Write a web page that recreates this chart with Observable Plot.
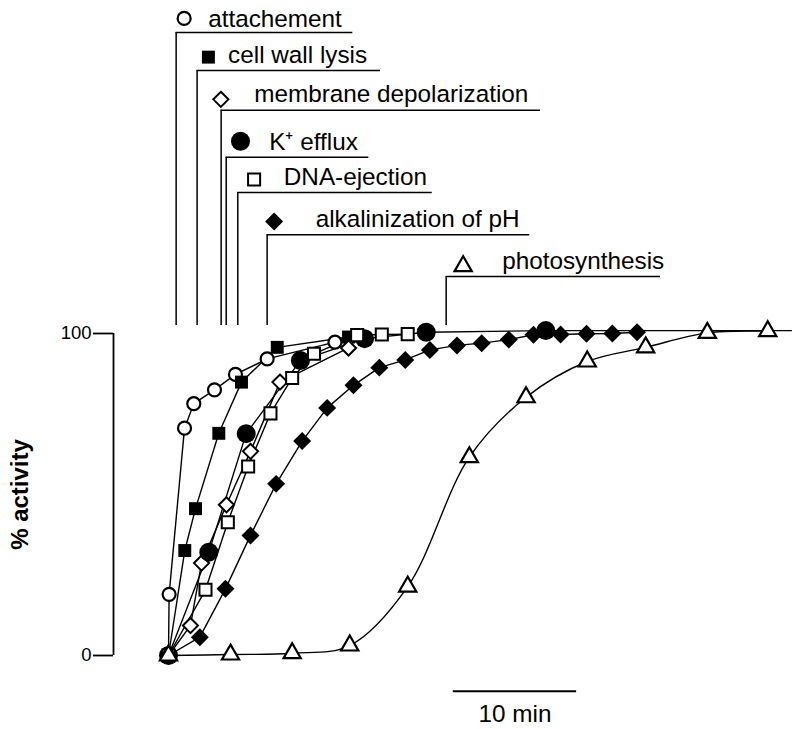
<!DOCTYPE html>
<html><head><meta charset="utf-8">
<script src="https://cdn.jsdelivr.net/npm/d3@7"></script>
<script src="https://cdn.jsdelivr.net/npm/@observablehq/plot@0.6"></script>
<style>body{margin:0;background:#fff}</style>
</head><body><div id="chart"></div>
<script>
// ---- data: [time (min), % activity] ----
const attachement = [[0,0],[0.05,19],[1.3,70.6],[2.05,78.2],[3.73,82.5],[5.43,87.3],[8.0,92.1],[13.5,97.3]];
const cellWallLysis = [[0,0],[1.32,32.6],[2.19,45.6],[4.08,69.0],[5.92,84.9],[8.82,95.7],[14.6,98.9]];
const membraneDepol = [[0,0],[1.78,9.3],[2.68,28.7],[4.7,46.8],[6.65,63.4],[9.04,84.9],[14.6,95.5]];
const kEfflux = [[0,0],[3.27,32.1],[6.3,68.9],[10.7,91.6],[15.9,98.4],[20.9,100.4],[30.6,100.9]];
const dnaEjection = [[0,0],[3.0,20.4],[4.81,41.4],[6.46,58.7],[8.27,75.2],[10.03,86.2],[11.8,93.7],[15.3,99.5],[17.3,99.7],[19.4,99.8]];
const alkalinization = [[0,0],[2.54,5.7],[4.62,20.7],[6.65,37.3],[8.73,53.3],[10.84,66.6],[12.87,76.9],[15.0,83.9],[17.1,89.4],[19.2,91.8],[21.2,94.9],[23.4,96.3],[25.4,97.0],[27.6,98.1],[29.6,99.6],[31.8,99.7],[33.9,99.9],[36.0,100],[38.0,100.4]];
const photosynthesis = [[0,0],[5.03,0.3],[10.03,0.7],[14.7,3.1],[19.4,21.4],[24.4,61.6],[29.0,80.2],[33.96,91.3],[38.7,95.7],[43.7,100.2],[48.6,100.7]];
const plateauEnd = 50.6;       // common 100 % line runs to here (min)

// legend / onset brackets
const labels = ["attachement","cell wall lysis","membrane depolarization","K\u207A efflux","DNA-ejection","alkalinization of pH","photosynthesis"];
const onsets = [0.62, 2.32, 4.27, 4.68, 5.62, 8.0, 22.52];          // min
const bracketEnds = [14.95, 17.19, 30.17, 16.25, 21.39, 29.3, 39.9]; // min
const yTicks = [0, 100];
const yLabel = "% activity";
const scaleBarLength = 10;      // min
const scaleBarStart = 23.1;     // min
const scaleBarLabel = "10 min";

// ---- layout / styles (not data) ----
const bracketTops = [193.5, 181.7, 169.3, 154.7, 143.8, 130.7, 117.7];
const bracketBottom = 102.5;
const markerDx = [8, 11.3, -0.3, 14.3, 16.3, 7, 17];
const markerDy = [-14, -13.3, -11, -16.2, -13, -13.2, -10.3];
const textDx = [32, 31, 33, 43, 46, 48.5, 56];
const textDy = [-13.4, -15.7, -15.7, -15.4, -15.1, -15.4, -15.1];
const FS = 24.3;
const styles = [
  {symbol:"circle",   fill:"white", r:6.5, sw:2.2},
  {symbol:"square",   fill:"black", r:7.3, sw:0},
  {symbol:"diamond2", fill:"white", r:6.8, sw:2},
  {symbol:"circle",   fill:"black", r:9.5, sw:0},
  {symbol:"square",   fill:"white", r:6.8, sw:2},
  {symbol:"diamond2", fill:"black", r:8.1, sw:0},
  {symbol:"triangle", fill:"white", r:6.4, sw:2.2}
];
const seriesData = [attachement, cellWallLysis, membraneDepol, kEfflux, dnaEjection, alkalinization, photosynthesis];

const rows = seriesData.flatMap((s, i) => s.map(([t, v]) => ({t, v, i})));
const legend = labels.map((label, i) => ({label, i, onset: onsets[i], end: bracketEnds[i], top: bracketTops[i]}));

const px = 12.33, py = 3.22, x0 = 168, y0 = 655, W = 800, H = 729, ML = 113;
const xDomain = [-(x0 - ML) / px, (W - x0) / px];
const yDomain = [-(H - y0) / py, y0 / py];
const tickLen = 20 / px;

const dotMarks = [];
styles.forEach((st, i) => {
  dotMarks.push(Plot.dot(rows.filter(d => d.i === i), {
    x: "t", y: "v", symbol: () => st.symbol, r: st.r,
    fill: st.fill, stroke: "black", strokeWidth: st.sw || 0.01
  }));
  dotMarks.push(Plot.dot([legend[i]], {
    x: "onset", y: "top", dx: markerDx[i], dy: markerDy[i],
    symbol: () => st.symbol, r: st.r, fill: st.fill, stroke: "black", strokeWidth: st.sw || 0.01
  }));
});
const legendText = legend.map((d, i) => Plot.text([d], {
  x: "onset", y: "top", text: "label", dx: textDx[i], dy: textDy[i],
  textAnchor: "start", fontSize: FS, lineAnchor: "middle"
}));

const chart = Plot.plot({
  width: W, height: H,
  marginLeft: ML, marginRight: 0, marginTop: 0, marginBottom: 0,
  x: {domain: xDomain, axis: null},
  y: {domain: yDomain, axis: null},
  style: {fontFamily: "'Liberation Sans', Arial, Helvetica, sans-serif", background: "white", color: "black", overflow: "visible"},
  marks: [
    // y axis: line, outward ticks, labels
    Plot.ruleX([xDomain[0]], {x: d => d, y1: yTicks[0], y2: yTicks[1], strokeWidth: 1.8}),
    Plot.ruleY(yTicks, {y: d => d, x1: xDomain[0] - tickLen, x2: xDomain[0], strokeWidth: 1.8}),
    Plot.text(yTicks, {x: xDomain[0] - tickLen, y: d => d, text: d => String(d), dx: -2, textAnchor: "end", lineAnchor: "middle", fontSize: 18.5}),
    Plot.text([yLabel], {frameAnchor: "left", y: 50, dx: -93, rotate: -90, textAnchor: "middle", text: d => d, fontSize: 24, fontWeight: "bold"}),
    // onset brackets
    Plot.ruleX(legend, {x: "onset", y1: bracketBottom, y2: "top", strokeWidth: 1.5}),
    Plot.ruleY(legend, {y: "top", x1: "onset", x2: "end", strokeWidth: 1.5}),
    ...legendText,
    // common plateau
    Plot.ruleY([kEfflux[kEfflux.length - 1]], {y: d => d[1], x1: d => d[0], x2: plateauEnd, strokeWidth: 1.4}),
    // lines
    Plot.line(rows.filter(d => d.i !== 6), {x: "t", y: "v", z: "i", stroke: "black", strokeWidth: 1.4}),
    Plot.line(rows.filter(d => d.i === 6), {x: "t", y: "v", stroke: "black", strokeWidth: 1.4, curve: "catmull-rom"}),
    ...dotMarks,
    // scale bar
    Plot.ruleY([scaleBarStart], {y: -11.1, x1: d => d, x2: d => d + scaleBarLength, strokeWidth: 1.8}),
    Plot.text([scaleBarLabel], {x: scaleBarStart + scaleBarLength / 2, y: -11.1, dy: 23, text: d => d, fontSize: FS})
  ]
});

document.getElementById("chart").append(chart);
</script>
</body></html>
